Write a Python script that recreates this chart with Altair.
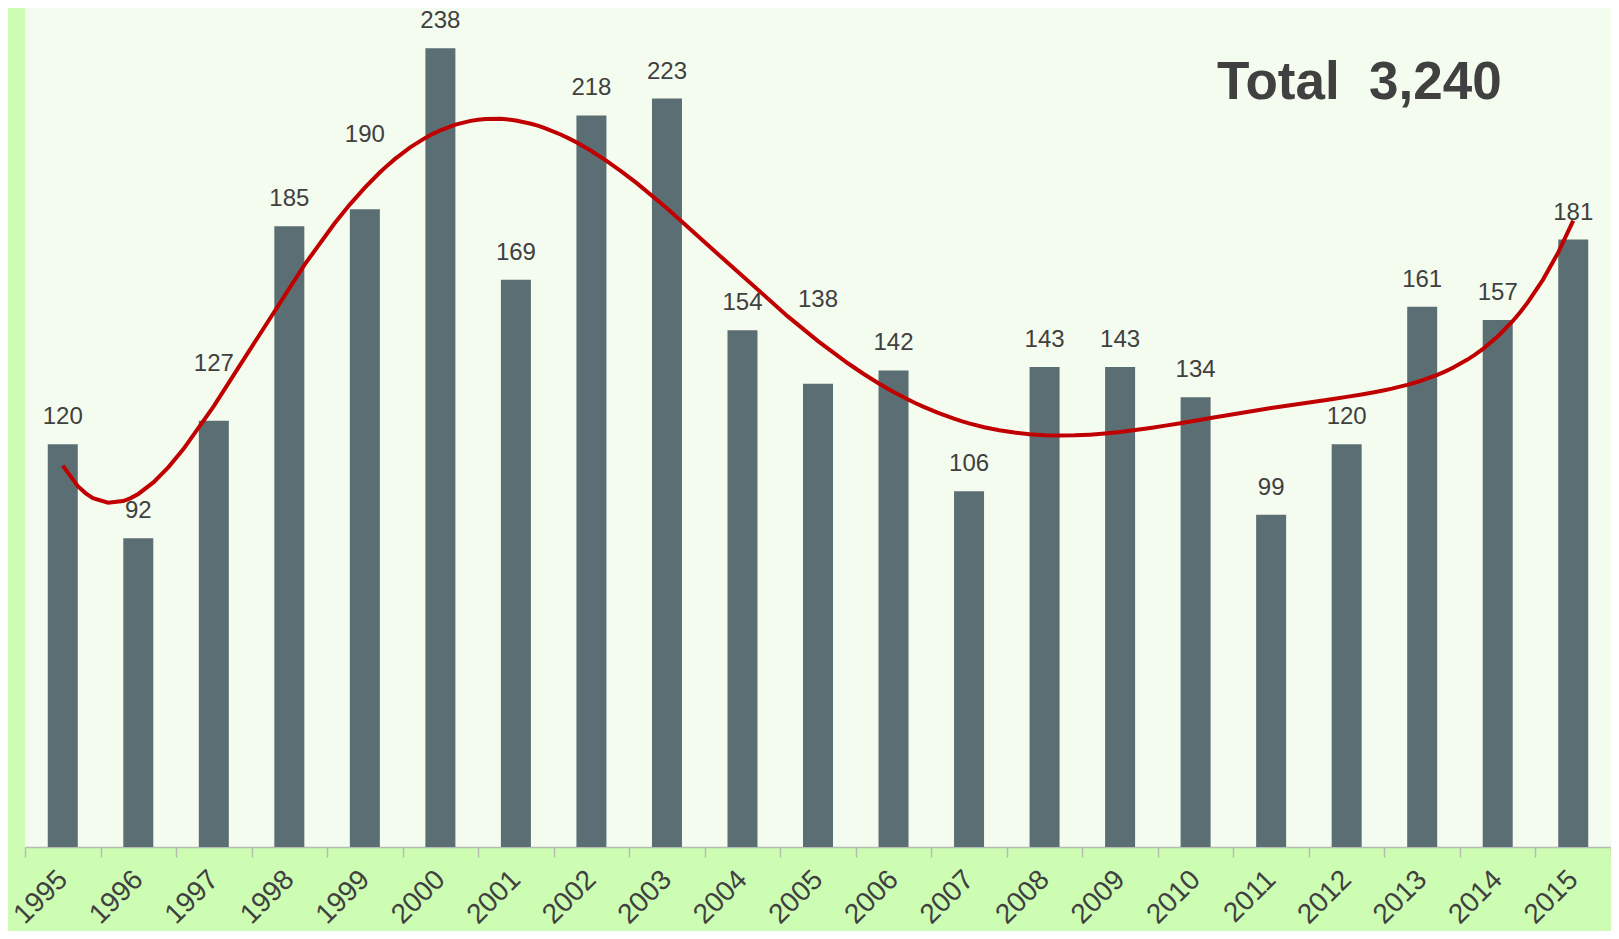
import altair as alt
import pandas as pd

years = ["1995", "1996", "1997", "1998", "1999", "2000", "2001", "2002", "2003", "2004",
         "2005", "2006", "2007", "2008", "2009", "2010", "2011", "2012", "2013", "2014", "2015"]
counts = [120, 92, 127, 185, 190, 238, 169, 218, 223, 154,
          138, 142, 106, 143, 143, 134, 99, 120, 161, 157, 181]

# labels that were lifted further above their bars in the original (value units)
label_lift = {"1997": 9, "1999": 14, "2005": 17}

df = pd.DataFrame({"Year": years, "Count": counts})
df["YearNum"] = [int(y) for y in years]
df["LabelPos"] = [c + label_lift.get(y, 0) for y, c in zip(years, counts)]

yscale = alt.Scale(domain=[0, 250], nice=False, zero=True)
yenc = alt.Y("Count:Q", scale=yscale, axis=None)

bandscale = alt.Scale(paddingInner=0, paddingOuter=0)
xband = alt.X(
    "Year:O",
    scale=bandscale,
    axis=alt.Axis(
        title=None, tickBand="extent", labelAngle=-45, labelAlign="right",
        labelBaseline="middle", labelPadding=18, labelFontSize=28,
        labelFont="Liberation Sans", labelColor="#404040",
        tickColor="#b4bcb4", tickSize=10, tickWidth=1.5,
        domainColor="#b4bcb4", domainWidth=1.5, grid=False,
    ),
)

base = alt.Chart(df)

bars = base.mark_bar(width=30, color="#5b6e73").encode(x=xband, y=yenc)

labels = base.mark_text(
    font="Liberation Sans", fontSize=24, color="#404040", baseline="middle", dy=-27
).encode(
    x=xband,
    y=alt.Y("LabelPos:Q", scale=yscale, axis=None),
    text="Count:Q",
)

barlayer = alt.layer(bars, labels)

xnum = alt.X("YearNum:Q", scale=alt.Scale(domain=[1994.5, 2015.5], nice=False, zero=False), axis=None)

trend = base.transform_regression("YearNum", "Count", method="poly", order=6).mark_line(
    color="#c00000", strokeWidth=4
).encode(x=xnum, y=yenc)

total_df = pd.DataFrame({"t": ["Total\u00a0\u00a0" + f"{sum(counts):,}"]})
total = alt.Chart(total_df).mark_text(
    font="Liberation Sans", fontSize=53, fontWeight="bold", color="#404040",
    align="left", baseline="alphabetic"
).encode(x=alt.value(1192), y=alt.value(91), text="t:N")

chart = alt.layer(barlayer, trend, total).resolve_scale(x="independent").properties(
    width=1586, height=839,
    autosize=alt.AutoSizeParams(type="none"),
    padding={"left": 17, "top": 0, "right": 0, "bottom": 84},
    background="#ccfdb2",
).configure_view(fill="#f4fcef", stroke=None)

chart.save("out.html", embed_options={"renderer": "svg", "actions": False})
